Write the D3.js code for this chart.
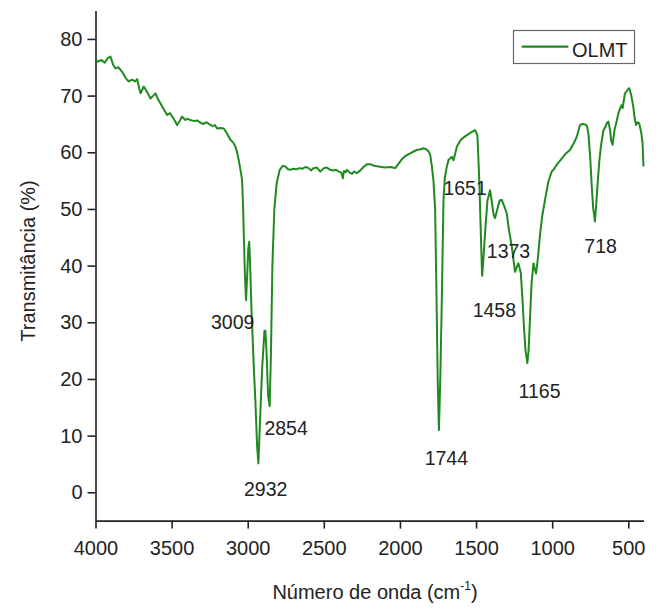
<!DOCTYPE html>
<html>
<head>
<meta charset="utf-8">
<script src="https://cdn.jsdelivr.net/npm/d3@7"></script>
<style>
  html, body { margin: 0; padding: 0; background: #fff; }
  svg { display: block; font-family: "Liberation Sans", Arial, sans-serif; }
</style>
</head>
<body>
<svg id="chart" width="660" height="609"></svg>
<script>
// ---- data ----
const wavenumber = [
  4000,3985,3960,3940,3920,3902,3885,3869,3850,3825,3800,3781,3760,3740,3726,3715,3704,3683,3660,3639,
  3620,3606,3590,3573,3550,3529,3510,3496,3480,3464,3445,3431,3410,3395,3377,3350,3330,3311,3290,3270,
  3256,3230,3215,3201,3180,3158,3140,3114,3095,3081,3070,3059,3045,3037,3030,3026,3018,3011,3004,2996,
  2990,2984,2975,2960,2950,2938,2930,2920,2905,2890,2884,2877,2866,2856,2847,2838,2825,2810,2790,2770,
  2753,2735,2720,2700,2680,2660,2640,2620,2600,2585,2567,2545,2523,2500,2480,2458,2440,2420,2400,2385,
  2375,2368,2355,2348,2330,2315,2300,2283,2260,2240,2215,2195,2170,2140,2100,2060,2031,2000,1980,1955,
  1920,1890,1870,1845,1825,1810,1801,1790,1780,1769,1760,1752,1744,1735,1725,1714,1705,1692,1680,1670,
  1660,1648,1635,1626,1600,1572,1550,1528,1506,1491,1478,1468,1460,1452,1441,1425,1408,1395,1385,1375,
  1360,1345,1331,1315,1298,1285,1265,1244,1232,1222,1206,1195,1185,1175,1163,1155,1145,1135,1123,1115,
  1106,1095,1079,1065,1047,1025,1003,992,970,940,910,883,860,839,817,800,784,772,762,750,
  740,730,719,710,700,690,680,664,650,640,631,620,612,603,590,575,565,555,545,537,
  530,522,510,500,493,480,467,458,449,438,428,415,406,400
];
const transmittance = [
  76.3,76.0,76.3,75.8,76.6,76.9,75.5,74.8,75.0,74.2,73.0,72.5,72.8,72.5,72.9,71.5,70.4,71.6,70.6,69.5,
  70.0,70.4,69.4,68.6,67.5,66.6,66.9,66.3,65.6,64.8,65.6,66.3,65.7,65.9,65.7,65.5,65.6,65.2,65.0,65.3,
  65.0,64.6,64.8,64.2,64.3,64.2,63.5,62.2,61.7,61.0,60.0,58.6,56.5,55.1,50.0,45.7,38.0,33.9,38.0,43.0,
  44.2,40.0,32.0,22.0,16.3,8.0,5.1,12.0,22.0,28.5,28.5,25.0,17.0,15.2,25.0,40.0,50.0,54.5,56.9,57.6,
  57.5,57.0,56.9,57.1,57.0,57.2,57.1,57.4,57.2,56.8,57.2,57.3,56.6,57.2,57.3,56.9,56.8,56.9,56.6,56.4,
  55.4,56.7,56.5,56.9,56.4,56.2,56.6,56.3,56.8,57.4,57.9,57.9,57.6,57.5,57.3,57.4,57.2,58.3,59.0,59.5,
  60.0,60.4,60.5,60.7,60.5,60.1,59.5,57.5,55.0,50.0,35.0,20.0,11.0,20.0,33.9,51.6,55.5,57.5,58.7,58.9,
  59.2,58.6,60.0,61.0,62.2,62.8,63.2,63.6,63.9,63.0,54.5,45.0,38.2,41.0,45.7,51.5,53.3,51.0,49.0,48.4,
  50.0,51.5,51.6,50.5,49.2,46.5,43.3,38.9,39.8,40.4,38.7,34.0,29.0,25.0,22.8,25.0,31.0,37.0,40.4,39.5,
  38.6,41.0,45.7,48.8,51.6,54.8,56.6,56.9,57.8,58.8,59.8,60.4,61.5,62.7,64.8,65.0,64.9,64.7,63.3,59.0,
  54.0,50.0,47.8,51.0,55.0,58.5,61.0,63.8,64.5,65.2,65.4,64.0,62.0,61.3,64.0,65.6,66.9,67.6,68.3,67.8,
  69.0,70.4,70.8,71.2,71.3,70.0,68.0,66.0,64.8,65.3,65.1,63.5,61.6,57.5
];
const seriesName = "OLMT";
const peakLabels = ["3009","2932","2854","1744","1651","1458","1373","1165","718"];
const peakLabelX = [3099, 2882, 2748, 1695, 1572, 1380, 1287, 1083, 682];
const peakLabelY = [28.8, -0.65, 10.1, 4.8, 52.5, 30.9, 41.3, 16.6, 42.2];
const xMajorTicks = [4000, 3500, 3000, 2500, 2000, 1500, 1000, 500];
const xMinorTicks = [3750, 3250, 2750, 2250, 1750, 1250, 750];
const yMajorTicks = [0, 10, 20, 30, 40, 50, 60, 70, 80];
const yMinorTicks = [5, 15, 25, 35, 45, 55, 65, 75, 85];

(function () {
  const svg = d3.select("#chart");
  const mLeft = 95.5, mRight = 643.5, mTop = 10.6, mBottom = 520.6;
  const green = "#1f8a1f";
  const ink = "#222";
  const ff = "Liberation Sans, Arial, sans-serif";

  const x = d3.scaleLinear().domain([4000, 400]).range([mLeft, mRight]);
  const y = d3.scaleLinear().domain([-5, 85]).range([mBottom, mTop]);

  // x axis
  const gx = svg.append("g").attr("transform", `translate(0,${mBottom})`);
  gx.call(d3.axisBottom(x).tickValues(xMinorTicks).tickSize(5).tickSizeOuter(0).tickFormat(""));
  gx.call(d3.axisBottom(x).tickValues(xMajorTicks).tickSize(8).tickSizeOuter(0).tickPadding(12).tickFormat(d3.format("d")));
  gx.selectAll("path,line").attr("stroke", ink).attr("stroke-width", 1.6);
  gx.selectAll("text").attr("font-size", 20).attr("fill", ink).attr("font-family", ff);

  // y axis
  const gy = svg.append("g").attr("transform", `translate(${mLeft},0)`);
  gy.call(d3.axisLeft(y).tickValues(yMinorTicks).tickSize(5).tickSizeOuter(0).tickFormat(""));
  gy.call(d3.axisLeft(y).tickValues(yMajorTicks).tickSize(8).tickSizeOuter(0).tickPadding(5).tickFormat(d3.format("d")));
  gy.selectAll("path,line").attr("stroke", ink).attr("stroke-width", 1.6);
  gy.selectAll("text").attr("font-size", 20).attr("fill", ink).attr("font-family", ff);

  // line
  const pts = wavenumber.map((w, i) => [w, transmittance[i]]);
  svg.append("path")
    .datum(pts)
    .attr("fill", "none")
    .attr("stroke", green)
    .attr("stroke-width", 2)
    .attr("stroke-linejoin", "round")
    .attr("d", d3.line().x(d => x(d[0])).y(d => y(d[1])));

  // peak labels
  svg.append("g").selectAll("text")
    .data(peakLabels)
    .join("text")
    .attr("x", (d, i) => x(peakLabelX[i]))
    .attr("y", (d, i) => y(peakLabelY[i]))
    .attr("text-anchor", "middle")
    .attr("font-size", 19.5)
    .attr("font-family", ff)
    .attr("fill", ink)
    .text(d => d);

  // axis titles
  svg.append("text")
    .attr("transform", `translate(35,261) rotate(-90)`)
    .attr("text-anchor", "middle")
    .attr("font-size", 20)
    .attr("font-family", ff)
    .attr("fill", ink)
    .text("Transmitância (%)");

  const xt = svg.append("text")
    .attr("x", 375).attr("y", 599)
    .attr("text-anchor", "middle")
    .attr("font-size", 20)
    .attr("font-family", ff)
    .attr("fill", ink);
  xt.append("tspan").text("Número de onda (cm");
  xt.append("tspan").attr("font-size", 12).attr("dy", -9).text("-1");
  xt.append("tspan").attr("dy", 9).text(")");

  // legend
  const lg = svg.append("g");
  lg.append("rect").attr("x", 513.5).attr("y", 30.5).attr("width", 121).attr("height", 33)
    .attr("fill", "#fff").attr("stroke", "#666").attr("stroke-width", 1.2);
  lg.append("line").attr("x1", 521.7).attr("x2", 568.3).attr("y1", 46.7).attr("y2", 46.7)
    .attr("stroke", green).attr("stroke-width", 2.2);
  lg.append("text").attr("x", 572).attr("y", 57.3).attr("font-size", 20)
    .attr("font-family", ff).attr("fill", ink).text(seriesName);
})();
</script>
</body>
</html>
